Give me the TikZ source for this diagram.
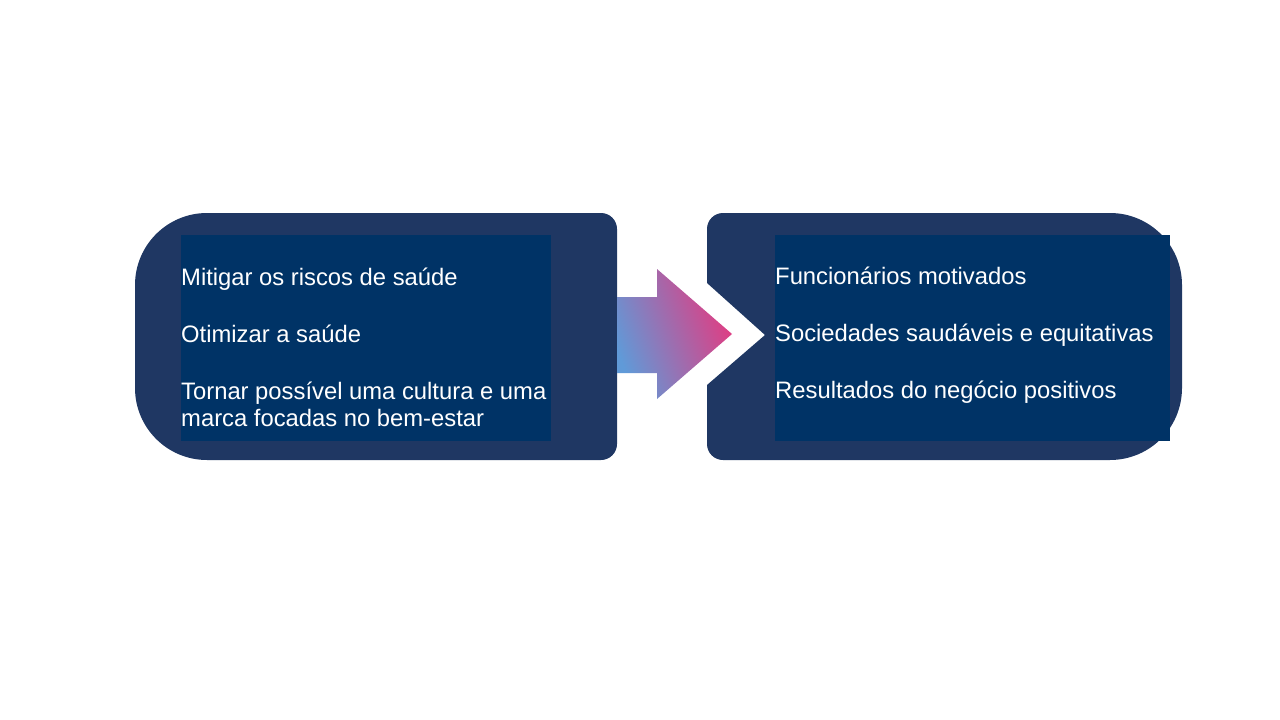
\documentclass[tikz,border=0pt]{standalone}
\usepackage{fontspec}
\setmainfont{Liberation Sans}
\definecolor{caixa}{RGB}{31,55,99}
\definecolor{miolo}{RGB}{0,51,102}
\definecolor{rosa}{RGB}{228,58,128}
\definecolor{lilas}{RGB}{208,88,148}
\definecolor{azul}{RGB}{96,154,216}
\tikzset{
  item/.style = {anchor = base west, inner sep = 0pt, text = white,
    font = \fontsize{23.8}{28}\selectfont},
  miolo/.style = {fill = miolo, inner sep = 0pt, anchor = north west}
}
\begin{document}
\begin{tikzpicture}[x = 1pt, y = -1pt]
  \useasboundingbox (0, 0) rectangle (1280, 720);
  % left box
  \fill[caixa] (376, 213) [rounded corners = 72pt] -- (135, 213) -- (135, 460)
    -- (376, 460) [rounded corners = 16pt] -- (617, 460) -- (617, 213) -- cycle;
  \node[miolo, minimum width = 370pt, minimum height = 206pt] (causas) at (181, 235) {};
  % right box
  \fill[caixa] (945, 213) [rounded corners = 16pt] -- (707, 213) [sharp corners]
    -- (707, 283) -- (765, 335) -- (707, 385) [rounded corners = 16pt]
    -- (707, 460) -- (945, 460) [rounded corners = 72pt] -- (1182, 460)
    -- (1182, 213) -- cycle;
  \node[miolo, minimum width = 395pt, minimum height = 206pt] (efeitos) at (775, 235) {};
  % arrow
  \shade[left color = azul, middle color = lilas, right color = rosa, shading angle = 110]
    (617, 297) -- (657, 297) -- (657, 269) -- (732, 334) -- (657, 399)
    -- (657, 373) -- (617, 373) -- cycle;
  % items
  \node[item] (riscos) at (181, 285) {Mitigar os riscos de saúde};
  \node[item] (saude) at (181, 342) {Otimizar a saúde};
  \node[item] (cultura) at (181, 399) {Tornar possível uma cultura e uma};
  \node[item] (marca) at (181, 426) {marca focadas no bem-estar};
  \node[item] (funcionarios) at (775, 284) {Funcionários motivados};
  \node[item] (sociedades) at (775, 341) {Sociedades saudáveis e equitativas};
  \node[item] (resultados) at (775, 398) {Resultados do negócio positivos};
\end{tikzpicture}
\end{document}
